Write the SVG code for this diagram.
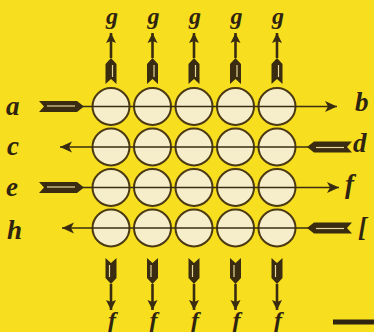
<svg xmlns="http://www.w3.org/2000/svg" xmlns:xlink="http://www.w3.org/1999/xlink" width="374" height="332" viewBox="0 0 374 332">
<style>
.bg{fill:#f7de1f}
.cell{fill:#f6eecb;stroke:#4a3912;stroke-width:2}
.ln{stroke:#3a2c10;stroke-width:1.7;fill:none}
.vs{stroke:#3a2c10;stroke-width:2.6;fill:none}
.fl{fill:#3a2c10}
.st{stroke:#e6d79a;stroke-width:1.2;fill:none}
.lb{font-family:"Liberation Serif",serif;font-style:italic;font-weight:bold;fill:#2e2410}
.sm{font-size:24px}
.bg2{font-size:27px}
</style>
<defs>
<marker id="ah" markerUnits="userSpaceOnUse" markerWidth="14" markerHeight="12" viewBox="-13 -6 14 12" refX="0" refY="0" orient="auto">
<path d="M0,0 L-12,-5.5 L-9,0 L-12,5.5 Z" fill="#3a2c10"/>
</marker>
<marker id="av" markerUnits="userSpaceOnUse" markerWidth="12" markerHeight="12" viewBox="-11 -6 12 12" refX="0" refY="0" orient="auto">
<path d="M0,0 L-10,-5 L-8,0 L-10,5 Z" fill="#3a2c10"/>
</marker>
<g id="flh">
<path class="fl" d="M-45,-5.5 L-7,-5.5 L0,0 L-7,5.5 L-45,5.5 L-40,0 Z"/>
<path class="st" d="M-37,-0.5 H-9"/>
</g>
<g id="flv">
<path class="fl" d="M-26,-5.5 L-6,-5.5 L0,0 L-6,5.5 L-26,5.5 L-21,0 Z"/>
<path class="st" d="M-19,1.5 H-7"/>
</g>
</defs>
<rect class="bg" x="0" y="0" width="374" height="332"/>
<g id="nodes">
<g id="r1"><circle class="cell" cx="111" cy="106.5" r="18.5"/><circle class="cell" cx="152.5" cy="106.5" r="18.5"/><circle class="cell" cx="194" cy="106.5" r="18.5"/><circle class="cell" cx="235.5" cy="106.5" r="18.5"/><circle class="cell" cx="277" cy="106.5" r="18.5"/></g>
<g id="r2"><circle class="cell" cx="111" cy="147" r="18.5"/><circle class="cell" cx="152.5" cy="147" r="18.5"/><circle class="cell" cx="194" cy="147" r="18.5"/><circle class="cell" cx="235.5" cy="147" r="18.5"/><circle class="cell" cx="277" cy="147" r="18.5"/></g>
<g id="r3"><circle class="cell" cx="111" cy="187.5" r="18.5"/><circle class="cell" cx="152.5" cy="187.5" r="18.5"/><circle class="cell" cx="194" cy="187.5" r="18.5"/><circle class="cell" cx="235.5" cy="187.5" r="18.5"/><circle class="cell" cx="277" cy="187.5" r="18.5"/></g>
<g id="r4"><circle class="cell" cx="111" cy="228" r="18.5"/><circle class="cell" cx="152.5" cy="228" r="18.5"/><circle class="cell" cx="194" cy="228" r="18.5"/><circle class="cell" cx="235.5" cy="228" r="18.5"/><circle class="cell" cx="277" cy="228" r="18.5"/></g>
</g>
<g id="connectors">
<path class="ln" d="M83,106.5 H337" marker-end="url(#ah)"/>
<use href="#flh" transform="translate(84,106.5)"/>
<path class="ln" d="M308,147 H60" marker-end="url(#ah)"/>
<use href="#flh" transform="translate(307,147) rotate(180)"/>
<path class="ln" d="M83,187.5 H339" marker-end="url(#ah)"/>
<use href="#flh" transform="translate(84,187.5)"/>
<path class="ln" d="M308,228 H62" marker-end="url(#ah)"/>
<use href="#flh" transform="translate(307,228) rotate(180)"/>
<g id="up">
<path class="vs" d="M111,58 V33" marker-end="url(#av)"/><use href="#flv" transform="translate(111,58) rotate(-90)"/>
<path class="vs" d="M152.5,58 V33" marker-end="url(#av)"/><use href="#flv" transform="translate(152.5,58) rotate(-90)"/>
<path class="vs" d="M194,58 V33" marker-end="url(#av)"/><use href="#flv" transform="translate(194,58) rotate(-90)"/>
<path class="vs" d="M235.5,58 V33" marker-end="url(#av)"/><use href="#flv" transform="translate(235.5,58) rotate(-90)"/>
<path class="vs" d="M277,58 V33" marker-end="url(#av)"/><use href="#flv" transform="translate(277,58) rotate(-90)"/>
</g>
<g id="down">
<path class="vs" d="M111,284 V310" marker-end="url(#av)"/><use href="#flv" transform="translate(111,284) rotate(90)"/>
<path class="vs" d="M152.5,284 V310" marker-end="url(#av)"/><use href="#flv" transform="translate(152.5,284) rotate(90)"/>
<path class="vs" d="M194,284 V310" marker-end="url(#av)"/><use href="#flv" transform="translate(194,284) rotate(90)"/>
<path class="vs" d="M235.5,284 V310" marker-end="url(#av)"/><use href="#flv" transform="translate(235.5,284) rotate(90)"/>
<path class="vs" d="M277,284 V310" marker-end="url(#av)"/><use href="#flv" transform="translate(277,284) rotate(90)"/>
</g>
</g>
<g id="labels">
<g class="lb sm" text-anchor="middle">
<text x="112" y="24">g</text><text x="153.5" y="24">g</text><text x="195" y="24">g</text><text x="236.5" y="24">g</text><text x="278" y="24">g</text>
<text x="112" y="328">f</text><text x="153.5" y="328">f</text><text x="195" y="328">f</text><text x="236.5" y="328">f</text><text x="278" y="328">f</text>
</g>
<g class="lb bg2">
<text x="6" y="115">a</text>
<text x="7" y="155">c</text>
<text x="6" y="196">e</text>
<text x="7" y="239">h</text>
<text x="355" y="111">b</text>
<text x="353" y="152">d</text>
<text x="345" y="193">f</text>
<text x="358" y="236">[</text>
</g>
</g>
<rect x="333" y="319.5" width="41" height="5" fill="#2e2410"/>
</svg>
